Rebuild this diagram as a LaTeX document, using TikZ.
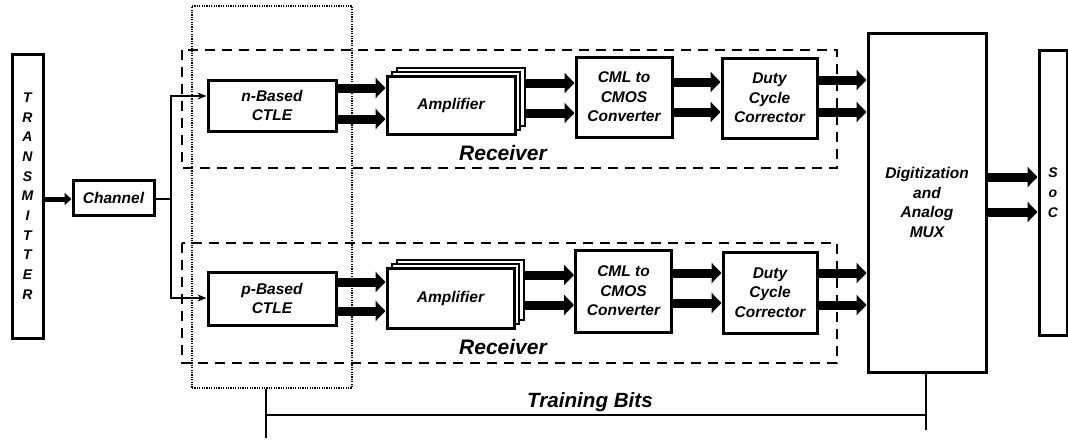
\documentclass[tikz,border=0pt]{standalone}
\usepackage{fontspec}
\setmainfont{Liberation Sans}
\usetikzlibrary{arrows.meta}

\begin{document}
\begin{tikzpicture}[x=1pt, y=-1pt,
  every node/.style = {font=\fontsize{15.5}{19.5}\selectfont\bfseries\itshape, align=center, inner sep=0pt},
  blk/.style = {draw, line width=3pt, fill=white},
  bus/.style = {line width=9pt, -{Triangle[length=10pt,width=20pt]}},
  feed/.style = {line width=5pt, -{Triangle[length=7pt,width=12pt]}},
  wire/.style = {line width=2.2pt, -{Stealth[length=9pt,width=7pt]}},
  rx/.style = {draw, line width=2.5pt, dash pattern=on 10pt off 7pt},
  big/.style = {font=\fontsize{21}{24}\selectfont\bfseries\itshape}]
  \useasboundingbox (0,0) rectangle (1068,439);
  \draw[rx] (182,50) rectangle (837,168);
  \draw[rx] (182,243) rectangle (837,363);
  \node[draw, line width=1.2pt, dash pattern=on 1.2pt off 1.2pt, minimum width=160pt, minimum height=382pt] (cal) at (272,197) {};
  \node[blk, minimum width=31pt, minimum height=284pt, font=\fontsize{14}{19.7}\selectfont\bfseries\itshape] (tx) at (27.5,196) {T\\R\\A\\N\\S\\M\\I\\T\\T\\E\\R};
  \node[blk, minimum width=81pt, minimum height=35pt] (chan) at (113.5,197.5) {Channel};
  \node[blk, minimum width=128pt, minimum height=51pt] (nctle) at (272,105.5) {n-Based\\CTLE};
  \node[blk, minimum width=128pt, minimum height=53pt] (pctle) at (272,298.5) {p-Based\\CTLE};
  \foreach \d in {10,5} {
    \node[blk, line width=1.5pt, minimum width=128pt, minimum height=58pt] (namp\d) at (451+\d,105-0.8*\d) {};
    \node[blk, line width=1.5pt, minimum width=127pt, minimum height=60pt] (pamp\d) at (450.5+\d,298-0.8*\d) {};
  }
  \node[blk, minimum width=128pt, minimum height=58pt] (namp) at (451,105) {Amplifier};
  \node[blk, minimum width=127pt, minimum height=60pt] (pamp) at (450.5,298) {Amplifier};
  \node[blk, minimum width=96pt, minimum height=80pt] (ncml) at (624,97) {CML to\\CMOS\\Converter};
  \node[blk, minimum width=96pt, minimum height=82pt] (pcml) at (623.5,291) {CML to\\CMOS\\Converter};
  \node[blk, minimum width=95pt, minimum height=80pt] (ndcc) at (769.5,98) {Duty\\Cycle\\Corrector};
  \node[blk, minimum width=94pt, minimum height=81pt] (pdcc) at (770,292.5) {Duty\\Cycle\\Corrector};
  \node[blk, minimum width=118pt, minimum height=339pt] (mux) at (927,202.5) {Digitization\\and\\Analog\\MUX};
  \node[blk, minimum width=28pt, minimum height=285pt, font=\fontsize{14}{20}\selectfont\bfseries\itshape] (soc) at (1053,192.5) {S\\o\\C};
  \node[big] (nrx) at (503,153) {Receiver};
  \node[big] (prx) at (503,347) {Receiver};
  \node[font=\fontsize{20.6}{24}\selectfont\bfseries\itshape] (tbits) at (590,402) {Training Bits};
  \coordinate (fork) at (171,199);
  \coordinate (tbl) at (266,415);
  \coordinate (tbr) at (926,415);
  \draw[feed] (tx.east |- 0,199) -- (chan.west |- 0,199);
  \draw[line width=2.2pt] (chan.east |- fork) -- (fork);
  \draw[wire] (fork) |- (nctle.west |- 0,96);
  \draw[wire] (fork) |- (pctle.west |- 0,298);
  \foreach \y in {88,119} \draw[bus] (nctle.east |- 0,\y) -- (namp.west |- 0,\y);
  \foreach \y in {83,113} \draw[bus] (namp10.east |- 0,\y) -- (ncml.west |- 0,\y);
  \foreach \y in {82,112} \draw[bus] (ncml.east |- 0,\y) -- (ndcc.west |- 0,\y);
  \foreach \y in {80,112} \draw[bus] (ndcc.east |- 0,\y) -- (mux.west |- 0,\y);
  \foreach \y in {282,311} \draw[bus] (pctle.east |- 0,\y) -- (pamp.west |- 0,\y);
  \foreach \y in {275,305} \draw[bus] (pamp10.east |- 0,\y) -- (pcml.west |- 0,\y);
  \foreach \y in {273,303} \draw[bus] (pcml.east |- 0,\y) -- (pdcc.west |- 0,\y);
  \foreach \y in {273,305} \draw[bus] (pdcc.east |- 0,\y) -- (mux.west |- 0,\y);
  \foreach \y in {177,212} \draw[bus] (mux.east |- 0,\y) -- (soc.west |- 0,\y);
  \draw[line width=2.5pt] (cal.south -| tbl) -- (266,438);
  \draw[line width=2.5pt] (tbl) -- (tbr);
  \draw[line width=2.5pt] (mux.south -| tbr) -- (926,430);
\end{tikzpicture}
\end{document}
